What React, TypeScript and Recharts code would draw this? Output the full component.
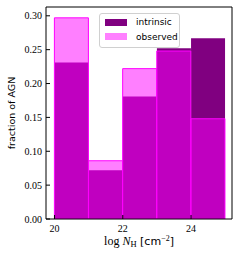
import { BarChart, Bar, XAxis, YAxis, Legend, Label } from "recharts"

// bin centres of log NH histogram (bins are 1 dex wide, 20..25)
const binCenters = [20.5, 21.5, 22.5, 23.5, 24.5]
const intrinsic = [0.231, 0.072, 0.181, 0.252, 0.267]
const observed = [0.297, 0.086, 0.222, 0.248, 0.148]

const xTicks = [20, 22, 24]
const yTicks = [0, 0.05, 0.1, 0.15, 0.2, 0.25, 0.3]

const data = binCenters.map((x, i) => ({ x, intrinsic: intrinsic[i], observed: observed[i] }))

const serif = "'Liberation Serif', serif"
const sans = "'DejaVu Sans', sans-serif"

// legend swatches: observed is magenta at alpha .5
const swatch: Record<string, string> = { intrinsic: "#800080", observed: "#ff80ff" }

function LegendBox({ payload }: any) {
  const items = (payload || []) as any[]
  return (
    <div
      style={{
        width: 81,
        border: "1px solid #d0d0d0",
        borderRadius: 3,
        background: "rgba(255,255,255,0.8)",
        padding: "1px 0 3px 5px",
        fontFamily: sans,
        fontSize: 9,
        color: "#000",
        boxSizing: "border-box",
      }}
    >
      {items.map((it) => (
        <div key={it.value} style={{ display: "flex", alignItems: "center", height: 14.5 }}>
          <span style={{ width: 22, height: 7, background: swatch[it.value], marginRight: 9 }} />
          <span>{it.value}</span>
        </div>
      ))}
    </div>
  )
}

export default function App() {
  return (
    <div style={{ position: "absolute", left: 0, top: 0, background: "#fff" }}>
      <BarChart
        width={241}
        height={258}
        data={data}
        margin={{ top: 2, right: 4, bottom: 0, left: 0 }}
        barCategoryGap={0}
        barGap="-100%"
      >
        <XAxis
          dataKey="x"
          type="number"
          domain={[19.75, 25.2]}
          allowDataOverflow
          ticks={xTicks}
          tickSize={-4}
          tickMargin={10}
          height={39}
          stroke="#000"
          tick={{ fill: "#000", fontFamily: serif, fontSize: 10 }}
        >
          <Label
            content={({ viewBox }: any) => (
              <text
                x={viewBox.x + viewBox.width / 2}
                y={viewBox.y + 26}
                textAnchor="middle"
                fontFamily={serif}
                fontSize={12}
                fill="#000"
              >
                log <tspan fontStyle="italic">N</tspan>
                <tspan fontSize={8.5} dy={2}>H</tspan>
                <tspan dy={-2} fontFamily={sans} fontSize={11}> [cm</tspan>
                <tspan fontSize={8} dy={-4}>−2</tspan>
                <tspan dy={4} fontFamily={sans} fontSize={11}>]</tspan>
              </text>
            )}
          />
        </XAxis>
        <XAxis
          xAxisId="top"
          orientation="top"
          dataKey="x"
          type="number"
          domain={[19.75, 25.2]}
          allowDataOverflow
          ticks={xTicks}
          tickSize={-4}
          tick={false}
          height={5}
          stroke="#000"
        />
        <YAxis
          domain={[0, 0.313]}
          allowDataOverflow
          ticks={yTicks}
          tickSize={-4}
          tickMargin={8}
          width={46}
          stroke="#000"
          tickFormatter={(v: number) => v.toFixed(2)}
          tick={{ fill: "#000", fontFamily: serif, fontSize: 10 }}
        >
          <Label
            content={({ viewBox }: any) => {
              const cx = viewBox.x + 11
              const cy = viewBox.y + viewBox.height / 2
              return (
                <text
                  x={cx}
                  y={cy}
                  transform={`rotate(-90 ${cx} ${cy})`}
                  textAnchor="middle"
                  dominantBaseline="central"
                  fontFamily={sans}
                  fontSize={9.5}
                  fill="#000"
                >
                  fraction of AGN
                </text>
              )
            }}
          />
        </YAxis>
        <YAxis
          yAxisId="right"
          orientation="right"
          domain={[0, 0.313]}
          allowDataOverflow
          ticks={yTicks}
          tickSize={-4}
          tick={false}
          width={5}
          stroke="#000"
        />
        <Legend
          layout="vertical"
          align="center"
          verticalAlign="middle"
          content={<LegendBox />}
          wrapperStyle={{ left: 99, top: 13, width: 81 }}
        />
        <Bar dataKey="intrinsic" fill="#800080" isAnimationActive={false} />
        <Bar
          dataKey="observed"
          fill="#ff00ff"
          fillOpacity={0.5}
          stroke="#ff00ff"
          strokeWidth={1}
          isAnimationActive={false}
        />
      </BarChart>
    </div>
  )
}
